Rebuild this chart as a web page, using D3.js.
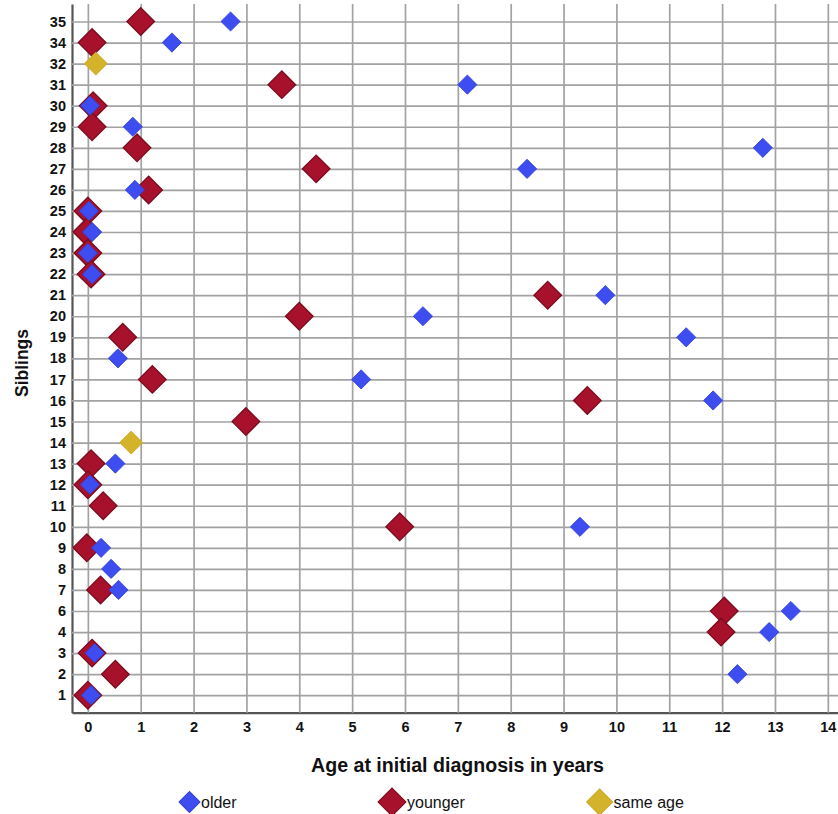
<!DOCTYPE html>
<html><head><meta charset="utf-8">
<script src="https://cdn.jsdelivr.net/npm/d3@7"></script>
<style>
body{margin:0;background:#fff}
text{font-family:"Liberation Sans",Arial,sans-serif}
</style></head>
<body><svg id="c" width="838" height="814"></svg>
<script>
// Categories (top to bottom)
const siblings = ["35","34","32","31","30","29","28","27","26","25","24","23","22","21","20","19","18","17","16","15","14","13","12","11","10","9","8","7","6","4","3","2","1"];
const xTicks = [0,1,2,3,4,5,6,7,8,9,10,11,12,13,14];

// Series: older sibling
const olderSib = ["35","34","31","30","29","28","27","26","25","24","23","22","21","20","19","18","17","16","13","12","10","9","8","7","6","4","3","2","1"];
const olderAge = [2.70,1.59,7.18,0.04,0.85,12.77,8.31,0.89,0.02,0.08,0.00,0.08,9.79,6.34,11.32,0.57,5.17,11.83,0.52,0.04,9.31,0.25,0.44,0.58,13.30,12.89,0.13,12.29,0.06];

// Series: younger sibling
const youngerSib = ["35","34","31","30","29","28","27","26","25","24","23","22","21","20","19","17","16","15","13","12","11","10","9","7","6","4","3","2","1"];
const youngerAge = [1.00,0.08,3.67,0.10,0.08,0.93,4.32,1.15,0.00,-0.02,0.00,0.06,8.70,4.00,0.66,1.22,9.45,2.99,0.06,0.00,0.29,5.90,-0.02,0.24,12.04,11.98,0.08,0.52,0.00];

// Series: same age
const sameSib = ["32","14"];
const sameAge = [0.15,0.82];

const legendLabels = ["older","younger","same age"];
const colors = {older:"#3d4df0", younger:"#a8112b", same:"#d2b32a"};

const svg = d3.select("#c");
const pLeft = 72, pRight = 838.4, pTop = 4, pBottom = 712.7;

const x = d3.scaleLinear().domain([-0.3, 14.2]).range([pLeft, pRight]);
const y = d3.scalePoint().domain(siblings).range([pTop, pBottom]).padding(0.83);

// x axis with vertical grid
const gx = svg.append("g").attr("transform", `translate(0,${pBottom})`)
  .call(d3.axisBottom(x).tickValues(xTicks).tickFormat(d3.format("d"))
    .tickSizeInner(-(pBottom - pTop)).tickSizeOuter(0).tickPadding(9.5));
gx.selectAll(".tick line").attr("stroke", "#a2a2a2").attr("stroke-width", 1.7);
gx.selectAll(".tick text").attr("font-size", 14.5).attr("font-weight", "bold").attr("fill", "#111")
  .attr("font-family", "'Liberation Sans',Arial,sans-serif");

// y axis with horizontal grid
const gy = svg.append("g").attr("transform", `translate(${pLeft},0)`)
  .call(d3.axisLeft(y).tickSizeInner(-(pRight - pLeft)).tickSizeOuter(0).tickPadding(6));
gy.selectAll(".tick line").attr("stroke", "#a2a2a2").attr("stroke-width", 1.7);
gy.selectAll(".tick text").attr("font-size", 14.5).attr("font-weight", "bold").attr("fill", "#111")
  .attr("font-family", "'Liberation Sans',Arial,sans-serif");

gx.select(".domain").attr("stroke", "#555").attr("stroke-width", 2.2);
gy.select(".domain").attr("stroke", "#555").attr("stroke-width", 2.2);
gx.raise();

// diamonds
const diamond = (half) => d3.symbol().type(d3.symbolSquare).size(2 * half * half)();

function drawSeries(sibs, ages, half, fill, stroke, sw) {
  svg.append("g").selectAll("path").data(sibs.map((s, i) => ({s, a: ages[i]})))
    .join("path")
    .attr("d", diamond(half))
    .attr("transform", d => `translate(${x(d.a)},${y(d.s)}) rotate(45)`)
    .attr("fill", fill).attr("stroke", stroke).attr("stroke-width", sw);
}
drawSeries(youngerSib, youngerAge, 13.8, colors.younger, "#7a0c1f", 1.3);
drawSeries(olderSib, olderAge, 9.6, colors.older, "#3440d8", 0.8);
drawSeries(sameSib, sameAge, 11.5, colors.same, "#c9a924", 0.8);

// axis titles
svg.append("text").attr("x", 457.5).attr("y", 772).attr("text-anchor", "middle")
  .attr("font-size", 19.6).attr("font-weight", "bold").attr("fill", "#111")
  .text("Age at initial diagnosis in years");
svg.append("text").attr("transform", "translate(28,363) rotate(-90)").attr("text-anchor", "middle")
  .attr("font-size", 17.5).attr("font-weight", "bold").attr("fill", "#111")
  .text("Siblings");

// legend
const legX = [189.5, 392, 599.6];
const legHalf = [10.5, 14, 13];
const legFill = [colors.older, colors.younger, colors.same];
const legStroke = ["#3440d8", "#7a0c1f", "#c9a924"];
legendLabels.forEach((lab, i) => {
  svg.append("path").attr("d", diamond(legHalf[i]))
    .attr("transform", `translate(${legX[i]},802) rotate(45)`)
    .attr("fill", legFill[i]).attr("stroke", legStroke[i]).attr("stroke-width", 1);
  svg.append("text").attr("x", legX[i] + legHalf[i] + 1).attr("y", 808)
    .attr("font-size", 16).attr("fill", "#111").text(lab);
});
</script>
</body></html>
